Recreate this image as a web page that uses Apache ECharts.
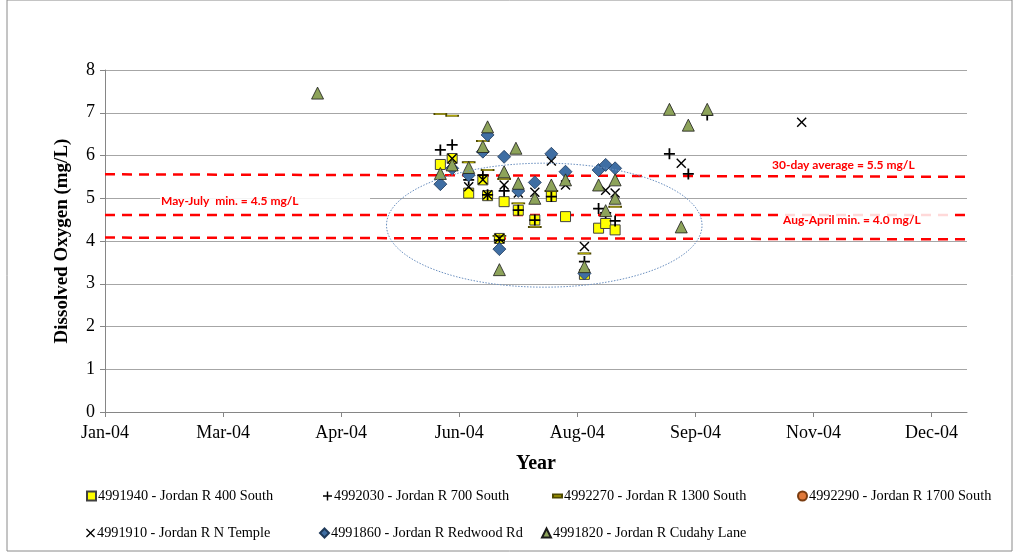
<!DOCTYPE html>
<html><head><meta charset="utf-8">
<script src="https://cdn.jsdelivr.net/npm/echarts@6/dist/echarts.min.js"></script>
<style>html,body{margin:0;padding:0;background:#fff}#c{width:1019px;height:556px}</style>
</head><body><div id="c"></div>
<script>
// ---- data ----
const seriesNames = [
  '4991940 - Jordan R 400 South',
  '4992030 - Jordan R 700 South',
  '4992270 - Jordan R 1300 South',
  '4992290 - Jordan R 1700 South',
  '4991910 - Jordan R N Temple',
  '4991860 - Jordan R Redwood Rd',
  '4991820 - Jordan R Cudahy Lane'
];
const s400South = [['2004-06-04',5.79],['2004-06-09',5.93],['2004-06-16',5.12],['2004-06-22',5.43],['2004-06-24',5.06],['2004-06-29',4.06],['2004-07-01',4.92],['2004-07-07',4.72],['2004-07-14',4.49],['2004-07-21',5.04],['2004-07-27',4.57],['2004-08-04',3.22],['2004-08-10',4.30],['2004-08-13',4.41],['2004-08-17',4.26]];
const s700South = [['2004-06-04',6.13],['2004-06-09',6.25],['2004-06-16',5.43],['2004-06-22',5.54],['2004-06-24',5.08],['2004-06-29',4.02],['2004-07-01',5.17],['2004-07-07',4.72],['2004-07-14',4.49],['2004-07-21',5.04],['2004-08-04',3.52],['2004-08-10',4.76],['2004-08-13',4.66],['2004-08-17',4.47],['2004-09-09',6.04],['2004-09-17',5.57],['2004-09-25',6.95]];
const s1300South = [['2004-06-04',6.97],['2004-06-09',6.93],['2004-06-16',5.84],['2004-06-22',6.34],['2004-06-24',5.66],['2004-06-29',4.12],['2004-07-01',5.45],['2004-07-07',4.88],['2004-07-14',4.33],['2004-07-21',5.17],['2004-08-04',3.71],['2004-08-17',4.80]];
const s1700South = [];
const sNTemple = [['2004-06-09',5.93],['2004-06-16',5.27],['2004-06-22',5.43],['2004-06-24',5.08],['2004-06-29',4.06],['2004-07-01',5.31],['2004-07-07',5.12],['2004-07-14',5.14],['2004-07-21',5.87],['2004-07-27',5.31],['2004-08-04',3.87],['2004-08-13',5.19],['2004-08-17',5.12],['2004-09-14',5.82],['2004-11-04',6.78]];
const sRedwood = [['2004-06-04',5.33],['2004-06-09',5.70],['2004-06-16',5.54],['2004-06-22',6.09],['2004-06-24',6.48],['2004-06-29',3.81],['2004-07-01',5.97],['2004-07-07',5.17],['2004-07-14',5.37],['2004-07-21',6.04],['2004-07-27',5.62],['2004-08-04',3.24],['2004-08-10',5.66],['2004-08-13',5.78],['2004-08-17',5.70]];
const sCudahy = [['2004-04-13',7.46],['2004-06-04',5.58],['2004-06-09',5.78],['2004-06-16',5.72],['2004-06-22',6.21],['2004-06-24',6.67],['2004-06-29',3.33],['2004-07-01',5.62],['2004-07-06',6.17],['2004-07-07',5.35],['2004-07-14',5.00],['2004-07-21',5.31],['2004-07-27',5.43],['2004-08-04',3.40],['2004-08-10',5.31],['2004-08-13',4.71],['2004-08-17',5.43],['2004-08-17',5.00],['2004-09-09',7.08],['2004-09-14',4.33],['2004-09-17',6.71],['2004-09-25',7.08]];
// reference lines (start, end)
const avgLine = [['2004-01-14',5.56],['2005-01-13',5.50]];
const mayJulyLine = [['2004-01-14',4.61],['2005-01-13',4.61]];
const augAprilLine = [['2004-01-14',4.08],['2005-01-13',4.04]];
const refLabels = ['30-day average = 5.5 mg/L','May-July  min. = 4.5 mg/L','Aug-April min. = 4.0 mg/L'];
// ellipse annotation: center date, center value, half-width days, half-height value
const ellipseSpec = ['2004-07-18', 4.37, 66.8, 1.45];
const xMin = 38000, xMax = 38365, xStep = 50;
const monthAbbr = ['Jan','Feb','Mar','Apr','May','Jun','Jul','Aug','Sep','Oct','Nov','Dec'];

// ---- helpers ----
const EPOCH = Date.UTC(1899,11,30);
function serial(s){const p=s.split('-').map(Number);return (Date.UTC(p[0],p[1]-1,p[2])-EPOCH)/86400000;}
function conv(arr){return arr.map(d=>[serial(d[0]),d[1]]);}
function fmt(v){const d=new Date(EPOCH+v*86400000);return monthAbbr[d.getUTCMonth()]+'-'+String(d.getUTCFullYear()).slice(2);}

const SERIF='"Liberation Serif","Times New Roman",serif';
const PLUS='path://M4.2,0H5.8V4.2H10V5.8H5.8V10H4.2V5.8H0V4.2H4.2Z';
const CROSS='path://M1,0L5,4L9,0L10,1L6,5L10,9L9,10L5,6L1,10L0,9L4,5L0,1Z';
const DASH='path://M0,0H10V3.5H0Z';

const styles = [
  {data:s400South, symbol:'rect', size:10, color:'#ffff00', border:'#404040', bw:1},
  {data:s700South, symbol:PLUS, size:11, color:'#000', border:'#000', bw:0},
  {data:s1300South, symbol:DASH, size:[12,4], color:'#cfc300', border:'#4d4800', bw:1},
  {data:s1700South, symbol:'circle', size:9, color:'#e0793a', border:'#7a3c10', bw:0.8},
  {data:sNTemple, symbol:CROSS, size:10, color:'#000', border:'#000', bw:0},
  {data:sRedwood, symbol:'diamond', size:13, color:'#3f6ea3', border:'#1f3a5a', bw:0.8},
  {data:sCudahy, symbol:'triangle', size:12, color:'#8da35a', border:'#1a1a1a', bw:0.8}
];

const series = styles.map((st,i)=>({
  name: seriesNames[i], type:'scatter', data: conv(st.data),
  symbol: st.symbol, symbolSize: st.size, symbolKeepAspect:true, z: 3+i,
  itemStyle:{color:st.color, borderColor:st.border, borderWidth:st.bw, opacity:1},
  emphasis:{disabled:true}
}));
[avgLine, mayJulyLine, augAprilLine].forEach((ln,i)=>{
  series.push({type:'line', data:conv(ln), symbol:'none', z:2, silent:true,
    lineStyle:{color:'#ff0000', width:2.5, type:[10,7]}});
});

const legendPos = [[81,484],[318,484],[547,484],[792,484],[81,521],[314,521],[536,521]];
const legends = seriesNames.map((n,i)=>({
  data:[i===2?{name:n, icon:DASH}:n], left:legendPos[i][0], top:legendPos[i][1],
  itemWidth:9, itemHeight:9, itemGap:0, selectedMode:false,
  textStyle:{fontFamily:SERIF, fontSize:14.3, color:'#000', padding:[0,0,0,-3]}
}));

const chart = echarts.init(document.getElementById('c'), null, {renderer:'canvas'});
chart.setOption({
  backgroundColor:'#fff', animation:false,
  grid:{left:105, right:52, top:70, bottom:144, containLabel:false},
  legend: legends,
  xAxis:{type:'value', min:xMin, max:xMax, interval:xStep,
    name:'Year', nameLocation:'middle', nameGap:42,
    nameTextStyle:{fontFamily:SERIF, fontSize:20, fontWeight:'bold', color:'#000'},
    axisLine:{lineStyle:{color:'#868686', width:1}},
    axisTick:{show:true, length:5, lineStyle:{color:'#868686'}},
    axisLabel:{formatter:fmt, fontFamily:SERIF, fontSize:18, color:'#000', margin:12, showMaxLabel:false},
    splitLine:{show:false}},
  yAxis:{type:'value', min:0, max:8, interval:1,
    name:'Dissolved Oxygen (mg/L)', nameLocation:'middle', nameGap:33, nameRotate:90,
    nameTextStyle:{fontFamily:SERIF, fontSize:19, fontWeight:'bold', color:'#000'},
    axisLine:{show:true, lineStyle:{color:'#868686', width:1}},
    axisTick:{show:true, length:5, lineStyle:{color:'#868686'}},
    axisLabel:{fontFamily:SERIF, fontSize:18, color:'#000', margin:10},
    splitLine:{lineStyle:{color:'#a6a6a6', width:1}}},
  series: series
});

// annotations
const c = chart.convertToPixel({gridIndex:0},[serial(ellipseSpec[0]), ellipseSpec[1]]);
const e = chart.convertToPixel({gridIndex:0},[serial(ellipseSpec[0])+ellipseSpec[2], ellipseSpec[1]+ellipseSpec[3]]);
const ANN = {fontFamily:'Lato, "Liberation Sans", sans-serif', fontSize:12, fontWeight:'bold', fill:'#ff0000'};
chart.setOption({graphic:[
  {type:'rect', shape:{x:7,y:0,width:1005,height:551}, style:{fill:null, stroke:'#8a8a8a', lineWidth:1}, z:0, silent:true},
  {type:'ellipse', shape:{cx:c[0], cy:c[1], rx:Math.abs(e[0]-c[0]), ry:Math.abs(c[1]-e[1])},
    style:{fill:null, stroke:'#6a8fbf', lineWidth:1, lineDash:[1.5,1.5]}, z:50, silent:true},
  {type:'rect', shape:{x:160,y:190,width:210,height:21}, style:{fill:'rgba(255,255,255,0.88)'}, z:40, silent:true},
  {type:'rect', shape:{x:781,y:208,width:168,height:27}, style:{fill:'rgba(255,255,255,0.85)'}, z:40, silent:true},
  {type:'text', left:161, top:195, style:Object.assign({text:refLabels[1]},ANN), z:60, silent:true},
  {type:'text', left:772, top:159, style:Object.assign({text:refLabels[0]},ANN), z:60, silent:true},
  {type:'text', left:783, top:214, style:Object.assign({text:refLabels[2]},ANN), z:60, silent:true}
]});
</script></body></html>
